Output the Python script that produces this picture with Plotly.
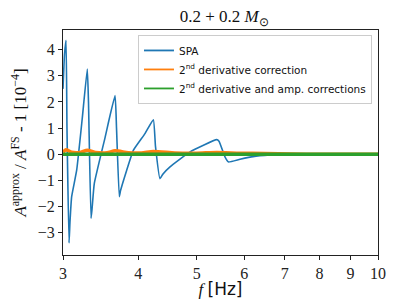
import plotly.graph_objects as go

# SPA curve (frequency in Hz, relative amplitude error in units of 1e-4)
spa_f = [3.000, 3.017, 3.035, 3.046, 3.070, 3.081, 3.101, 3.161, 3.230, 3.292, 3.307,
         3.339, 3.352, 3.381, 3.520, 3.660, 3.681, 3.720, 3.737, 3.827, 3.925, 4.104,
         4.237, 4.272, 4.346, 4.397, 4.516, 4.875, 5.398, 5.446, 5.572, 5.643,
         5.901, 6.202, 6.618, 7.144, 8.012, 10.0]
spa_v = [2.5, 3.8, 4.36, 1.0, -3.39, -2.6, -1.62, -0.61, 1.4, 3.26, 2.0,
         -2.45, -2.1, -1.12, 0.6, 2.24, 1.0, -1.62, -1.4, -0.61, 0.15, 0.79,
         1.32, 0.3, -0.93, -0.75, -0.48, 0.09, 0.56, 0.5, -0.1, -0.29,
         -0.19, -0.09, -0.03, 0.0, 0.01, 0.01]

# 2nd derivative correction
d2_f = [3.000, 3.035, 3.10, 3.20, 3.292, 3.40, 3.55, 3.660, 3.85, 4.05, 4.237,
        4.6, 5.0, 5.398, 5.9, 6.5, 7.2, 8.0, 10.0]
d2_v = [0.08, 0.17, 0.08, 0.07, 0.15, 0.07, 0.06, 0.13, 0.06, 0.05, 0.11,
        0.05, 0.04, 0.07, 0.04, 0.03, 0.01, 0.0, 0.0]

# 2nd derivative and amplitude corrections
amp_f = [3.0, 4.0, 5.0, 6.0, 7.0, 8.0, 10.0]
amp_v = [0.0, 0.0, 0.0, 0.0, 0.0, 0.0, 0.0]

names = ["SPA", "2<sup>nd</sup> derivative correction",
         "2<sup>nd</sup> derivative and amp. corrections"]
colors = ["#1f77b4", "#ff7f0e", "#2ca02c"]

x_ticks = [3, 4, 5, 6, 7, 8, 9, 10]
y_ticks = [-3, -2, -1, 0, 1, 2, 3, 4]

fig = go.Figure()
fig.add_trace(go.Scatter(x=spa_f, y=spa_v, mode="lines", name=names[0], showlegend=False,
                         line=dict(color=colors[0], width=1.6, shape="spline", smoothing=0.4)))
fig.add_trace(go.Scatter(x=d2_f, y=d2_v, mode="lines", name=names[1], showlegend=False,
                         line=dict(color=colors[1], width=3.5, shape="spline", smoothing=0.6)))
fig.add_trace(go.Scatter(x=amp_f, y=amp_v, mode="lines", name=names[2], showlegend=False,
                         line=dict(color=colors[2], width=3.5)))
# legend entries with thin line samples
for nm, c in zip(names, colors):
    fig.add_trace(go.Scatter(x=[None], y=[None], mode="lines", name=nm,
                             line=dict(color=c, width=1.8)))

serif = "Liberation Serif"
axis_common = dict(showline=True, linecolor="#222", linewidth=1, mirror=True,
                   ticks="outside", ticklen=4, tickcolor="#222", showgrid=False,
                   zeroline=False, automargin=False,
                   tickfont=dict(family=serif, size=16, color="#222"))

fig.update_layout(
    width=391, height=291,
    margin=dict(l=55, r=21, t=22, b=44),
    paper_bgcolor="white", plot_bgcolor="white",
    title=dict(text="0.2 + 0.2 <i>M</i><sub>⊙</sub>", x=0.553, xanchor="center",
               y=0.972, yanchor="middle",
               font=dict(family=serif, size=17, color="#111")),
    xaxis=dict(type="log", range=[0.47712, 1.0], tickvals=x_ticks,
               ticktext=[str(t) for t in x_ticks],
               title=dict(text="<i>f</i> <span style='font-family:DejaVu Sans'>[Hz]</span>",
                          font=dict(family=serif, size=17, color="#111"), standoff=2),
               **axis_common),
    yaxis=dict(range=[-3.85, 4.75], tickvals=y_ticks,
               ticktext=[str(t).replace("-", "−") for t in y_ticks],
               title=dict(text="<i>A</i><sup>approx</sup> / <i>A</i><sup>FS</sup> - 1 [10<sup>−4</sup>]",
                          font=dict(family=serif, size=17, color="#111"), standoff=8),
               **axis_common),
    legend=dict(x=0.238, y=0.978, xanchor="left", yanchor="top",
                bgcolor="rgba(255,255,255,0.85)", bordercolor="#ccc", borderwidth=1,
                font=dict(family="DejaVu Sans", size=10.5, color="#111"),
                tracegroupgap=0, itemwidth=30),
    showlegend=True,
)

fig.write_html("out.html")
